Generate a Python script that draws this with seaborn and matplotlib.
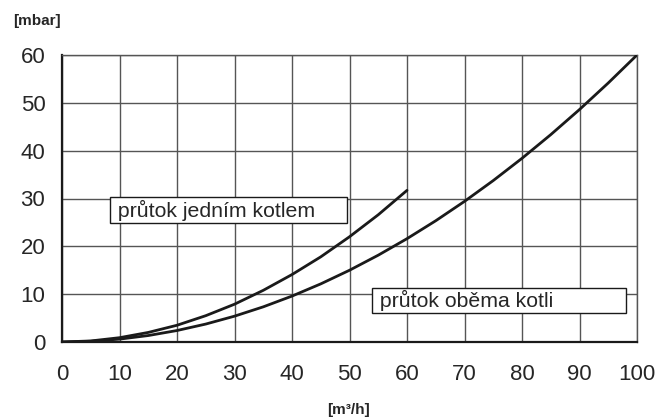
import matplotlib
matplotlib.use('Agg')
import matplotlib.pyplot as plt
import seaborn as sns
import pandas as pd

# flow [m3/h] and pressure drop [mbar]
flow_one = [0, 5, 10, 15, 20, 25, 30, 35, 40, 45, 50, 55, 60]
dp_one = [0, 0.22, 0.9, 2.0, 3.5, 5.5, 7.9, 10.8, 14.1, 17.8, 22.0, 26.6, 31.7]

flow_two = [0, 5, 10, 15, 20, 25, 30, 35, 40, 45, 50, 55, 60,
            65, 70, 75, 80, 85, 90, 95, 100]
dp_two = [0, 0.15, 0.6, 1.35, 2.4, 3.75, 5.4, 7.35, 9.6, 12.15, 15.0, 18.15, 21.6,
          25.35, 29.4, 33.75, 38.4, 43.35, 48.6, 54.15, 60.0]

label_one = 'průtok jedním kotlem'
label_two = 'průtok oběma kotli'

x_ticks = list(range(0, 101, 10))
y_ticks = list(range(0, 61, 10))

df = pd.concat([
    pd.DataFrame({'flow': flow_one, 'dp': dp_one, 'series': label_one}),
    pd.DataFrame({'flow': flow_two, 'dp': dp_two, 'series': label_two}),
])

sns.set_style('white')
plt.rcParams['font.family'] = ['Liberation Sans', 'DejaVu Sans']

fig = plt.figure(figsize=(6.59, 4.17), dpi=100)
ax = fig.add_axes([62 / 659, 1 - 342 / 417, 575 / 659, 287 / 417])

sns.lineplot(data=df, x='flow', y='dp', units='series', estimator=None,
             color='#1a1a1a', linewidth=2, ax=ax, legend=False, zorder=3)

ax.set_xlim(0, 100)
ax.set_ylim(0, 60)
ax.set_xticks(x_ticks)
ax.set_yticks(y_ticks)
ax.tick_params(axis='both', labelsize=16, length=5, width=1,
               color='#555555', direction='out', pad=7)
ax.tick_params(axis='x', pad=11)
ax.grid(True, color='#555555', linewidth=1)

for side in ['top', 'right']:
    ax.spines[side].set_color('#555555')
    ax.spines[side].set_linewidth(1)
for side in ['left', 'bottom']:
    ax.spines[side].set_color('#1a1a1a')
    ax.spines[side].set_linewidth(1.6)

ax.set_xlabel('')
ax.set_ylabel('')

box = dict(boxstyle='square,pad=0.1', facecolor='white', edgecolor='#1a1a1a', linewidth=1)
ax.text(8.7, 27.6, ' ' + label_one + '     ', fontsize=15.3, va='center', ha='left',
        bbox=box, zorder=4)
ax.text(54.3, 8.7, ' ' + label_two + '            ', fontsize=15.3, va='center', ha='left',
        bbox=box, zorder=4)

fig.text(13 / 659, 1 - 21 / 417, '[mbar]', fontsize=11, fontweight='bold',
         ha='left', va='center')
fig.text(349 / 659, 1 - 410 / 417, '[m³/h]', fontsize=11, fontweight='bold',
         ha='center', va='center')

fig.savefig('out.png', dpi=100)
